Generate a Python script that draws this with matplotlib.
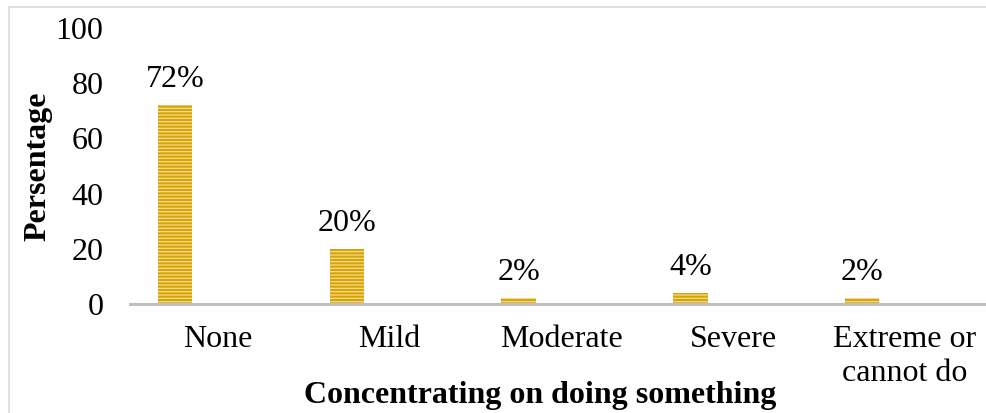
import matplotlib.pyplot as plt
import matplotlib.patches as patches
import numpy as np

categories = ['None', 'Mild', 'Moderate', 'Severe', 'Extreme or\ncannot do']
values = [72, 20, 2, 4, 2]
labels = ['72%', '20%', '2%', '4%', '2%']
yticks = [0, 20, 40, 60, 80, 100]

plt.rcParams['font.family'] = ['Liberation Serif', 'DejaVu Serif']
plt.rcParams['hatch.linewidth'] = 0.9

fig = plt.figure(figsize=(9.87, 4.13), dpi=100)
ax = fig.add_axes([130/987, 1 - 304/413, 1 - 130/987, (304 - 28)/413])

x = np.arange(len(categories))
bars = ax.bar(x - 0.25, values, width=0.2, color='#D8A306',
              edgecolor='#F6DC8C', linewidth=0, hatch='-----')

# value labels above each bar
for xi, v, lab in zip(x, values, labels):
    ax.annotate(lab, (xi - 0.25, v), xytext=(0, 8), textcoords='offset points',
                ha='center', va='bottom', fontsize=23)

ax.set_xlim(-0.512, 4.477)
ax.set_ylim(0, 100)
ax.set_yticks(yticks)
ax.set_xticks(x)
ax.set_xticklabels(categories, linespacing=1.22)
ax.tick_params(axis='both', length=0, labelsize=23)
ax.tick_params(axis='y', pad=19)
ax.tick_params(axis='x', pad=15)

for s in ['top', 'right', 'left']:
    ax.spines[s].set_visible(False)
ax.spines['bottom'].set_color('#BFBFBF')
ax.spines['bottom'].set_linewidth(2.2)

ax.set_ylabel('Persentage', fontsize=23, fontweight='bold')
ax.yaxis.set_label_coords(-0.09, 0.5)
fig.text(540/987, 1 - 395/413, 'Concentrating on doing something',
         ha='center', va='center', fontsize=23, fontweight='bold')

# outer frame around the chart area
frame = patches.Rectangle((9/987, -0.1), 1.2, 1.1 - 7/413, transform=fig.transFigure,
                          fill=False, edgecolor='#D9D9D9', linewidth=1.2)
fig.patches.append(frame)

fig.savefig('out.png', dpi=100)
